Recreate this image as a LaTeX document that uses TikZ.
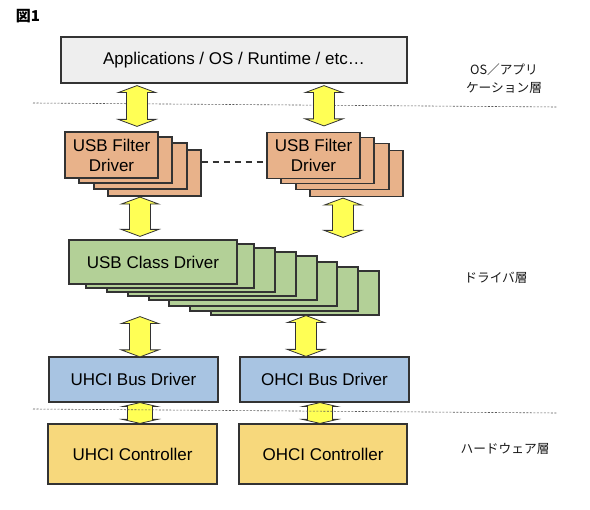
\documentclass[tikz,border=0pt]{standalone}
\usepackage{fontspec}
\setmainfont{Liberation Sans}
\newfontfamily\jpfont{Noto Sans CJK JP}
\usetikzlibrary{calc}
\definecolor{grayfill}{HTML}{EEEEEE}
\definecolor{filterfill}{HTML}{E8B28A}
\definecolor{classfill}{HTML}{B3D097}
\definecolor{busfill}{HTML}{A8C4E2}
\definecolor{ctrlfill}{HTML}{F7D87C}
\definecolor{arrfill}{HTML}{FFFF55}
\definecolor{edge}{HTML}{333333}
\tikzset{
 box/.style={draw=edge, line width=1.2pt, inner sep=0pt, align=center, font=\fontsize{17}{20}\selectfont, text=black},
 fatarr/.style={draw=edge, fill=arrfill, line width=0.8pt, line join=miter},
 layerline/.style={draw=gray!70!black, line width=0.6pt, dash pattern=on 2pt off 1.5pt},
 conn/.style={draw=edge, line width=1.2pt, dash pattern=on 6pt off 5pt},
 lbl/.style={font=\jpfont\fontsize{12.7}{18}\selectfont, align=center, text=black!90},
}
% #1 shaft half width, #2 head half width, #3 head length, #4 upper point, #5 lower point
\newcommand\fatarrow[5]{%
 \path[fatarr] let \p1=(#4), \p2=(#5) in
  (\x1,\y1) -- (\x1+#2pt,\y1-#3pt) -- (\x1+#1pt,\y1-#3pt) -- (\x1+#1pt,\y2+#3pt)
  -- (\x1+#2pt,\y2+#3pt) -- (\x1,\y2) -- (\x1-#2pt,\y2+#3pt) -- (\x1-#1pt,\y2+#3pt)
  -- (\x1-#1pt,\y1-#3pt) -- (\x1-#2pt,\y1-#3pt) -- cycle;}
\begin{document}
\begin{tikzpicture}[x=1pt,y=-1pt]
\useasboundingbox (0,0) rectangle (590,510);
\node[font=\jpfont\bfseries\fontsize{15}{15}\selectfont] (fig) at (28,16) {図1};

% top box
\node[box, fill=grayfill, minimum width=346pt, minimum height=46pt] (app) at (234,60) {Applications / OS / Runtime / etc…};

% top layer line (under arrows)
\draw[layerline] (33,103) -- (557,107);

% filter stacks
\foreach \dx/\dy/\n in {43/18/4, 29/11/3, 14/5/2}{
  \node[box, fill=filterfill, minimum width=93pt, minimum height=46pt] (fl\n) at ({111.5+\dx},{155+\dy}) {};
}
\node[box, fill=filterfill, minimum width=93pt, minimum height=46pt] (fl1) at (111.5,155) {USB Filter\\Driver};
\foreach \dx/\dy/\n in {43/18/4, 29/11/3, 14/5/2}{
  \node[box, fill=filterfill, minimum width=93pt, minimum height=46pt] (fr\n) at ({313.5+\dx},{155.5+\dy}) {};
}
\node[box, fill=filterfill, minimum width=93pt, minimum height=46pt] (fr1) at (313.5,155.5) {USB Filter\\Driver};
\draw[conn] (fl4.east |- 0,162) -- (fr1.west |- 0,162);

% class driver stack
\foreach \dx/\dy/\n in {142/31/8, 121/27/7, 100/22/6, 80/16/5, 59/12/4, 38/8/3, 17/4/2}{
  \node[box, fill=classfill, minimum width=168pt, minimum height=44pt] (cls\n) at ({153+\dx},{262+\dy}) {};
}
\node[box, fill=classfill, minimum width=168pt, minimum height=44pt] (cls1) at (153,262) {USB Class Driver};

% bus drivers
\node[box, fill=busfill, minimum width=169pt, minimum height=45pt] (ub) at (133.5,379.5) {UHCI Bus Driver};
\node[box, fill=busfill, minimum width=169pt, minimum height=45pt] (ob) at (324.5,379.5) {OHCI Bus Driver};

% controllers
\node[box, fill=ctrlfill, minimum width=169pt, minimum height=60pt] (uc) at (132.5,454) {UHCI Controller};
\node[box, fill=ctrlfill, minimum width=168pt, minimum height=60pt] (oc) at (323,454) {OHCI Controller};

% arrows
\fatarrow{10.5}{18.8}{7}{$(app.south -| 137,0)+(0,2)$}{$(fl1.north -| 137,0)+(0,-5)$}
\fatarrow{10.5}{18.8}{7}{$(app.south -| 324,0)+(0,2)$}{$(fr1.north -| 324,0)+(0,-6)$}
\fatarrow{10.5}{18.8}{7}{$(fl4.south -| 140,0)+(0,0.5)$}{$(cls1.north -| 140,0)+(0,-3)$}
\fatarrow{10.5}{18.8}{7}{$(fr4.south -| 343,0)+(0,1)$}{$(cls1.north -| 343,0)+(0,-2)$}
\fatarrow{10.5}{18.8}{7}{$(cls8.south -| 140,0)+(0,1)$}{$(ub.north -| 140,0)+(0,0.5)$}
\fatarrow{10.5}{18.8}{7}{$(cls8.south -| 306,0)$}{$(ob.north -| 306,0)$}
\fatarrow{12.5}{17.5}{4}{$(ub.south -| 140,0)$}{$(uc.north -| 140,0)$}
\fatarrow{12.5}{17.5}{4}{$(ob.south -| 320,0)$}{$(oc.north -| 320,0)$}

% bottom layer line (over arrows)
\draw[layerline] (33,409) -- (557,413);

% layer labels
\node[lbl] (l1) at (504,79) {OS／アプリ\\ケーション層};
\node[lbl] (l2) at (496,278) {ドライバ層};
\node[lbl] (l3) at (505,449) {ハードウェア層};
\end{tikzpicture}
\end{document}
